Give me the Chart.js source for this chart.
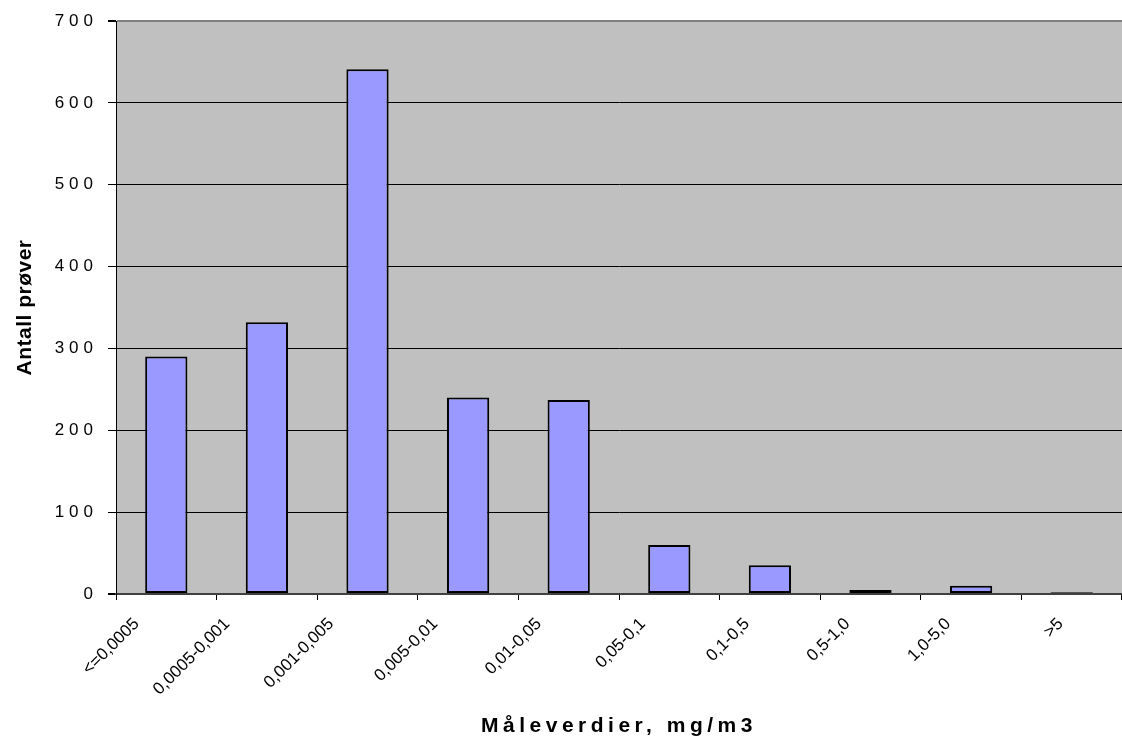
<!DOCTYPE html>
<html>
<head>
<meta charset="utf-8">
<script src="https://cdn.jsdelivr.net/npm/chart.js@4/dist/chart.umd.min.js"></script>
<style>
html,body{margin:0;padding:0;background:#fff;}
#wrap{width:1122px;height:740px;}
</style>
</head>
<body>
<div id="wrap"><canvas id="c" width="1122" height="740"></canvas></div>
<script>
const categories = ["<=0,0005","0,0005-0,001","0,001-0,005","0,005-0,01","0,01-0,05","0,05-0,1","0,1-0,5","0,5-1,0","1,0-5,0",">5"];
const counts = [290, 332, 641, 240, 237, 60, 35, 5, 10, 2];
const yTicks = [0, 100, 200, 300, 400, 500, 600, 700];
const xTitle = "Måleverdier, mg/m3";
const yTitle = "Antall prøver";

const FONT = "'Liberation Sans', Arial, sans-serif";

const spacingPlugin = {
  id: 'spacing',
  beforeDraw(chart) {
    const ctx = chart.ctx;
    const ca = chart.chartArea;
    ctx.save();
    ctx.fillStyle = '#C0C0C0';
    ctx.fillRect(ca.left, ca.top, ca.right - ca.left, ca.bottom - ca.top);
    ctx.restore();
    const wrap = (scale, name, sp) => {
      const key = '__w_' + name;
      if (scale[key]) return;
      const orig = scale[name];
      scale[name] = function(...args) {
        const c = this.ctx;
        const prev = c.letterSpacing;
        c.letterSpacing = sp;
        try { return orig.apply(this, args); } finally { c.letterSpacing = prev || '0px'; }
      };
      scale[key] = true;
    };
    const y = chart.scales.y, x = chart.scales.x;
    wrap(y, 'drawLabels', '5px');
    wrap(y, 'drawTitle', '0.5px');
    wrap(x, 'drawLabels', '0px');
    wrap(x, 'drawTitle', '4.5px');
    // shift each rotated category label left by half its slanted extent (Excel-like anchoring)
    if (!x.__shift) {
      const origCompute = x._computeLabelItems;
      x._computeLabelItems = function(area) {
        const items = origCompute.call(this, area);
        const c = this.ctx;
        c.save();
        items.forEach(it => {
          c.font = it.font.string;
          const w = c.measureText(String(it.label)).width;
          const ext = (w + it.font.size * 0.72) * Math.SQRT1_2;
          it.options.translation[0] -= ext / 2;
        });
        c.restore();
        return items;
      };
      x.__shift = true;
      x._labelItems = null;
    }
  }
};

new Chart(document.getElementById('c'), {
  type: 'bar',
  data: {
    labels: categories,
    datasets: [{
      data: counts,
      backgroundColor: '#9999FF',
      borderColor: '#000000',
      borderWidth: 2,
      borderSkipped: false,
      categoryPercentage: 1,
      barPercentage: 0.42
    }]
  },
  options: {
    responsive: false,
    animation: false,
    devicePixelRatio: 1,
    layout: { padding: { top: 21, right: 0, left: 0, bottom: 0 } },
    plugins: { legend: { display: false }, tooltip: { enabled: false } },
    scales: {
      x: {
        offset: true,
        grid: { offset: true, drawOnChartArea: false, drawTicks: true, tickLength: 6, color: '#000', lineWidth: 1 },
        border: { display: true, color: '#404040', width: 2 },
        ticks: {
          maxRotation: 45, minRotation: 45, autoSkip: false,
          labelOffset: 0, padding: 14,
          color: '#000',
          font: { family: FONT, size: 17 }
        },
        title: {
          display: true, text: xTitle, color: '#000',
          font: { family: FONT, size: 21, weight: 'bold' },
          padding: { top: 0, bottom: 1 }
        },
        afterFit(scale) { scale.height = 146; }
      },
      y: {
        min: 0, max: 700,
        afterBuildTicks(scale) { scale.ticks = yTicks.map(v => ({ value: v })); },
        grid: {
          color: (c) => c.tick && c.tick.value === 700 ? '#808080' : (c.tick && c.tick.value === 0 ? '#404040' : '#000'),
          lineWidth: (c) => c.tick && (c.tick.value === 700 || c.tick.value === 0) ? 2 : 1,
          tickColor: '#000',
          tickLength: 8,
          drawTicks: true
        },
        border: { display: true, color: '#000', width: 1 },
        ticks: {
          padding: 10,
          color: '#000',
          font: { family: FONT, size: 17 }
        },
        title: {
          display: true, text: yTitle, color: '#000',
          font: { family: FONT, size: 21, weight: 'bold' },
          padding: { top: 13, bottom: 0 }
        },
        afterFit(scale) { scale.width = 116; }
      }
    }
  },
  plugins: [spacingPlugin]
});
</script>
</body>
</html>
